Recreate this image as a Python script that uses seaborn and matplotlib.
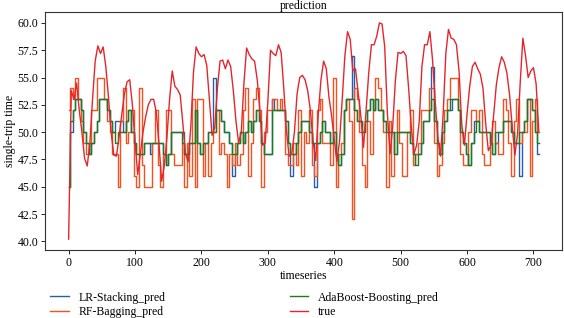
import numpy as np
import pandas as pd
import matplotlib
matplotlib.use("Agg")
import matplotlib.pyplot as plt
import seaborn as sns

# one value every 4 time steps
step = 4

lr_stacking = [
    45, 50, 52, 53, 53, 52, 50, 49, 48, 49, 50, 51, 53, 53, 53, 52, 51, 50, 51, 51, 51, 50, 51,
    52, 50, 49, 48, 48, 48, 49, 49, 48, 49, 49, 49, 49, 48, 47, 48, 50, 50, 50, 50, 50, 48, 48, 49, 49,
    52, 49, 48, 49, 49, 50, 50, 55, 52, 52, 51, 50, 50, 49, 46, 48, 49, 50, 49, 50, 51, 50, 51, 52, 51,
    49, 48, 48, 48, 53, 52, 52, 52, 52, 51, 49, 46, 48, 49, 50, 51, 51, 51, 50, 49, 45, 49, 50, 51, 50,
    50, 49, 50, 48, 47, 48, 52, 53, 53, 57, 52, 51, 51, 50, 51, 52, 53, 52, 53, 52, 52, 51, 50, 50,
    50, 48, 50, 50, 50, 50, 50, 49, 48, 48, 48, 49, 51, 51, 52, 56, 51, 49, 48, 50, 51, 52, 52, 53, 53,
    52, 50, 49, 48, 47, 49, 51, 51, 50, 50, 50, 50, 49, 48, 49, 50, 50, 51, 51, 51, 50, 49, 49, 46, 50,
    51, 53, 53, 52, 50, 48,
]

rf_bagging = [
    52, 54, 53, 55, 53, 51, 49, 48, 49, 52, 52, 55, 55, 55, 53, 51, 50, 48, 48, 45, 51, 54, 49,
    50, 52, 46, 45, 54, 47, 45, 45, 45, 49, 52, 47, 45, 48, 52, 52, 48, 47, 47, 47, 49, 45, 49, 46, 53,
    45, 53, 53, 46, 49, 46, 49, 50, 52, 48, 49, 48, 45, 48, 47, 49, 47, 48, 52, 54, 46, 49, 53, 54, 52,
    45, 50, 52, 52, 53, 53, 52, 53, 52, 48, 47, 47, 49, 47, 52, 46, 50, 49, 52, 47, 46, 52, 53, 49, 49,
    49, 47, 55, 45, 48, 49, 52, 53, 51, 42, 54, 53, 50, 47, 45, 51, 48, 52, 55, 54, 52, 50, 45, 51,
    46, 50, 52, 49, 46, 46, 50, 52, 47, 48, 49, 52, 52, 52, 54, 54, 49, 46, 47, 49, 52, 53, 55, 55, 55,
    52, 48, 47, 47, 50, 52, 52, 51, 52, 48, 47, 47, 49, 51, 49, 48, 48, 53, 52, 49, 46, 51, 53, 49, 50,
    50, 53, 46, 51, 53, 50,
]

ada_boosting = [
    45, 51, 52, 53, 53, 52, 50, 49, 48, 49, 50, 51, 53, 53, 53, 52, 51, 50, 49, 50, 50, 50, 51,
    52, 50, 49, 48, 48, 48, 49, 49, 49, 49, 49, 49, 49, 48, 47, 48, 50, 50, 50, 50, 49, 48, 48, 49, 49,
    52, 49, 48, 49, 49, 50, 50, 50, 52, 52, 51, 50, 50, 49, 48, 48, 49, 50, 49, 50, 51, 50, 51, 52, 51,
    49, 48, 48, 48, 52, 52, 52, 52, 52, 51, 49, 48, 48, 49, 50, 51, 51, 51, 50, 49, 49, 49, 50, 51, 50,
    50, 49, 50, 48, 47, 48, 52, 53, 53, 53, 52, 51, 51, 50, 51, 52, 53, 52, 53, 52, 52, 51, 50, 50,
    50, 48, 50, 50, 50, 50, 50, 49, 48, 47, 48, 49, 51, 51, 52, 53, 51, 49, 48, 50, 51, 52, 53, 53, 53,
    52, 50, 49, 48, 47, 49, 50, 51, 50, 50, 50, 50, 49, 48, 50, 50, 50, 51, 51, 51, 50, 49, 49, 50, 50,
    51, 53, 53, 52, 50, 49,
]

true_vals = [
    40.2, 53.8, 53.0, 54.5, 52.0, 50.0, 47.6, 46.9, 49.0, 53.0, 56.5, 57.9, 57.2, 57.8, 56.0, 53.2,
    50.0, 47.9, 47.8, 49.6, 51.6, 53.5, 54.6,
    54.8, 52.5, 49.2, 46.1, 48.0, 50.0, 51.4, 52.5, 53.0, 53.0, 51.8, 49.0, 45.5, 46.9, 49.5, 53.0,
    55.6, 54.2, 53.9, 53.4, 50.8, 48.0, 47.3, 50.5, 55.5,
    57.8, 57.2, 56.9, 57.1, 56.1, 53.0, 49.7, 50.4, 54.0, 56.5, 56.6, 55.8, 56.6, 56.0, 53.8, 51.0,
    49.0, 50.0, 54.5, 57.7, 57.1, 56.7, 56.5, 54.8, 52.0,
    48.8, 49.0, 52.8, 57.5, 57.2, 57.0, 58.0, 57.3, 54.0, 50.1, 47.8, 48.0, 50.0, 53.5, 55.0, 55.2,
    54.8, 53.8, 52.0, 49.2, 47.4, 51.7, 54.8, 56.5, 55.8,
    53.2, 51.5, 49.3, 47.3, 49.2, 53.0, 57.0, 59.2, 58.5, 55.6, 55.8, 53.6, 51.5, 48.6, 52.0, 55.5,
    58.0, 58.0, 58.8, 60.0, 59.9, 57.8, 51.7, 48.0,
    50.5, 54.7, 57.3, 57.2, 57.4, 57.0, 54.0, 50.5, 48.0, 48.8, 51.0, 56.0, 58.0, 58.0, 59.2, 56.6,
    52.8, 49.5, 47.8, 51.7, 57.2, 59.4, 58.6, 58.5, 58.0,
    55.5, 50.7, 48.8, 51.7, 54.2, 56.0, 56.4, 55.8, 55.3, 54.0, 50.8, 48.3, 48.8, 51.6, 54.3, 55.9,
    56.9, 56.4, 55.4, 53.4, 50.5, 47.9, 49.8, 54.5, 58.6,
    57.0, 55.0, 55.6, 55.9, 54.4, 50.0,
]

series_names = ["LR-Stacking_pred", "RF-Bagging_pred", "AdaBoost-Boosting_pred", "true"]
series_vals = [lr_stacking, rf_bagging, ada_boosting, true_vals]
colors = ["#2b5ca8", "#f4511e", "#1e7b1e", "#e3262e"]
palette = dict(zip(series_names, colors))

frames = []
for name, vals in zip(series_names, series_vals):
    frames.append(pd.DataFrame({
        "timeseries": np.arange(len(vals)) * step,
        "value": vals,
        "series": name,
    }))
df = pd.concat(frames, ignore_index=True)
preds = df[df["series"] != "true"]
truth = df[df["series"] == "true"]

plt.rcParams["font.family"] = ["Liberation Serif", "DejaVu Serif"]
plt.rcParams["font.size"] = 8.5

fig, ax = plt.subplots(figsize=(5.64, 3.18), dpi=100)
fig.subplots_adjust(left=0.08, right=0.997, top=0.962, bottom=0.214)

# the model outputs are step-like, the measured series is smooth
sns.lineplot(data=preds, x="timeseries", y="value", hue="series",
             hue_order=series_names[:3], palette=palette,
             estimator=None, sort=False, linewidth=1.0, drawstyle="steps-mid", ax=ax)
sns.lineplot(data=truth, x="timeseries", y="value", hue="series",
             palette=palette, estimator=None, sort=False, linewidth=1.0, ax=ax)

ax.set_title("prediction", fontsize=8.5, pad=2)
ax.set_xlabel("timeseries", fontsize=8.5, labelpad=1)
ax.set_ylabel("single-trip time", fontsize=8.5, labelpad=1)
ax.set_xticks(np.arange(0, 701, 100))
ax.set_yticks(np.arange(40, 60.1, 2.5))
ax.yaxis.set_major_formatter(matplotlib.ticker.FormatStrFormatter("%.1f"))
ax.tick_params(labelsize=8.5, length=3, width=0.6, pad=2)
for sp in ax.spines.values():
    sp.set_linewidth(0.8)
    sp.set_color("#333333")

handles, labels = ax.get_legend_handles_labels()
ax.legend(handles, labels, ncol=2, mode="expand", loc="upper left",
          bbox_to_anchor=(0, -0.255, 0.77, 0.1), frameon=False, fontsize=8.5,
          handlelength=1.6, borderaxespad=0, labelspacing=0.2)

fig.savefig("out.png", dpi=100)
